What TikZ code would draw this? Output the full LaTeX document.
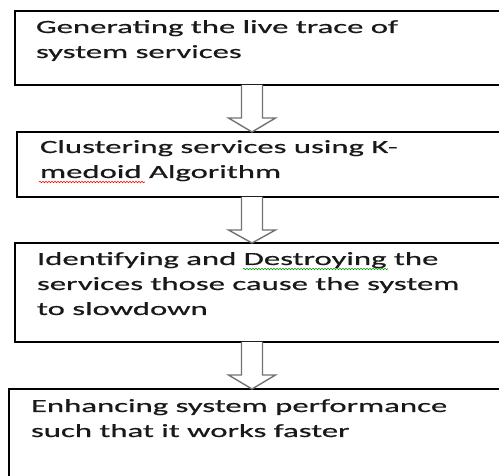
\documentclass[tikz,border=0pt]{standalone}
\usepackage{fontspec}
\setmainfont[FakeStretch=1.76,FakeBold=0.6]{Carlito}
\usetikzlibrary{calc,decorations.pathmorphing}
\newcommand\blkarrow[2]{%
  \draw[blk] ($(#1)+(-10.5,0)$) -- ($(#1)+(-10.5,33)$) -- ($(#1)+(-23.5,33)$) -- (#2)
    -- ($(#1)+(23.5,33)$) -- ($(#1)+(10.5,33)$) -- ($(#1)+(10.5,0)$);}
\begin{document}
\begin{tikzpicture}[x=1pt,y=-1pt,
  box/.style={draw=black,line width=1.4pt,fill=white,outer sep=0pt,inner sep=0pt,anchor=north west,minimum width=505pt},
  txt/.style={anchor=base west,inner sep=0pt,outer sep=0pt,text=black!90,font=\fontsize{18.6}{25}\selectfont},
  blk/.style={draw=black!55,line width=1.4pt,fill=white,line join=miter},
  squig/.style={decorate,decoration={snake,amplitude=0.7pt,segment length=3pt},line width=0.6pt}]
\useasboundingbox (0,0) rectangle (499,476);
\clip (0,0) rectangle (499,476);
\fill[white] (0,0) rectangle (499,476);
% boxes
\node[box,minimum height=74pt] (b1) at (15,11) {};
\node[box,minimum height=65pt] (b2) at (17,132) {};
\node[box,minimum height=99pt] (b3) at (15,243) {};
\node[box,minimum height=101pt] (b4) at (9,389) {};
% texts
\node[txt] (t1a) at (36,33) {Generating the live trace of};
\node[txt] (t1b) at (36,58) {system services};
\node[txt] (t2a) at (40,153) {Clustering services using K-};
\node[txt] (t2b) at (40,178) {medoid Algorithm};
\node[txt] (t3a) at (37,265) {Identifying and Destroying the};
\node[txt] (t3b) at (37,290) {services those cause the system};
\node[txt] (t3c) at (37,315) {to slowdown};
\node[txt] (t4a) at (31,412) {Enhancing system performance};
\node[txt] (t4b) at (31,437) {such that it works faster};
% spell-check underlines
\draw[squig,red] ($(t2b.base west)+(-1,4)$) -- ($(t2b.base west)+(105,4)$);
\draw[squig,green!60!black] ($(t3a.base west)+(206,4)$) -- ($(t3a.base west)+(351,4)$);
% arrows
\coordinate (ax) at (252,0);
\coordinate (a1t) at (b1.south -| ax);
\coordinate (a1b) at (b2.north -| ax);
\coordinate (a2t) at (b2.south -| ax);
\coordinate (a2b) at (b3.north -| ax);
\coordinate (a3t) at (b3.south -| ax);
\coordinate (a3b) at (b4.north -| ax);
\blkarrow{a1t}{a1b}
\blkarrow{a2t}{a2b}
\blkarrow{a3t}{a3b}
\end{tikzpicture}
\end{document}
